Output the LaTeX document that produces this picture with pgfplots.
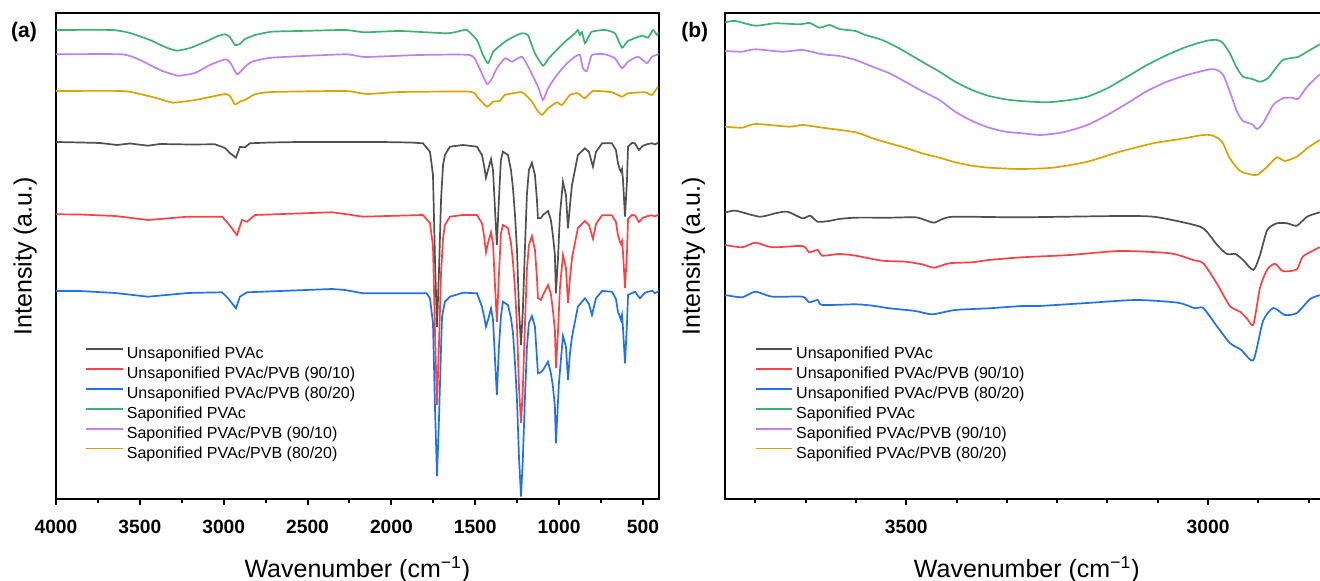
\documentclass[border=0pt]{standalone}
\usepackage{fontspec}
\setmainfont{Liberation Sans}
\usepackage{pgfplots}
\pgfplotsset{compat=1.18}
\definecolor{cgray}{RGB}{80,80,80}
\definecolor{cred}{RGB}{250,66,66}
\definecolor{cblue}{RGB}{30,112,238}
\definecolor{cgreen}{RGB}{60,178,112}
\definecolor{cpurple}{RGB}{190,128,245}
\definecolor{cgold}{RGB}{218,163,0}
\pgfplotsset{
  common/.style={
    scale only axis, anchor=south west, x dir=reverse,
    ymin=-1, ymax=484.5, ytick=\empty,
    xtick pos=left, tick align=outside,
    major tick length=3pt, minor tick length=2pt,
    tick style={line width=1pt, black},
    axis line style={line width=1pt},
    scaled x ticks=false,
    /pgf/number format/set thousands separator={},
    /pgf/number format/assume math mode=true,
    xticklabel style={font=\fontsize{9.6}{11}\selectfont\bfseries, yshift=-3.8pt},
    label style={font=\fontsize{12.5}{14}\selectfont},
    xlabel={Wavenumber (cm\textsuperscript{−1})},
    ylabel={Intensity (a.u.)},
    legend cell align=left,
    legend image code/.code={\draw[#1] (0pt,2.9pt) -- (18.3pt,2.9pt);},
    every axis plot/.append style={line width=0.85pt},
    clip mode=individual,
  }
}
\begin{document}
\begin{tikzpicture}
\path[use as bounding box] (0,0) rectangle (660pt,290.5pt);
% ---------------- panel (a)
\begin{axis}[common, at={(28pt,41pt)}, width=301.35pt, height=242.75pt,
  xmin=406, xmax=4000, xtick={500,1000,...,4000},
  minor xtick={750,1250,1750,2250,2750,3250,3750},
  xlabel style={at={(axis description cs:0.5,-0.1607)}, anchor=base},
  ylabel style={at={(axis description cs:-0.0405,0.5)}, anchor=base},
  legend style={draw=none, fill=none, inner sep=0pt, outer sep=0pt,
    at={(axis description cs:0.0488,0.317)}, anchor=north west,
    font=\fontsize{8}{9}\selectfont, row sep=0pt, column sep=1.6pt,
    nodes={inner sep=0pt, text height=6.95pt, text depth=2.98pt}},
]
\addplot[cgray] coordinates {(4000,356) (3857,355.5) (3738,355) (3636,353) (3559,354.5) (3451,352.3) (3380,354) (3201,353.5) (3052,353.7) (2992,350) (2963,345) (2927,340.3) (2903,351) (2873,350.7) (2843,354.7) (2724,355.5) (2545,356) (2307,356) (2068,356) (1889,355.5) (1812,354.7) (1770,346.3) (1752,323) (1740,238) (1728,171) (1716,228) (1704,298) (1692,333) (1681,343) (1651,351.3) (1573,353) (1490,351.3) (1460,343) (1448,333) (1436,320.3) (1424,328) (1406,339) (1394,328) (1382,288) (1371,253) (1359,298) (1347,338) (1335,346.3) (1305,343) (1287,328) (1275,310) (1263,283) (1251,248) (1239,188) (1227,153) (1216,188) (1204,248) (1192,303) (1180,328) (1162,335.3) (1144,323) (1132,298) (1126,279.7) (1108,280) (1096,283) (1066,287) (1049,278) (1037,263) (1025,243) (1019,204.7) (1007,238) (995,283) (977,316.3) (959,303) (947,269.7) (935,293) (923,313) (888,343) (846,349.7) (822,346) (798,331.3) (780,346) (744,354.7) (685,354.7) (661,348) (649,334.7) (637,328) (631,326.3) (625,329) (619,318) (607,281.3) (595,318) (589,351.3) (566,355) (548,354.7) (524,348) (500,352.3) (470,354) (446,354.7) (428,353.5) (405,355.7)};
\addlegendentry{Unsaponified PVAc}
\addplot[cred] coordinates {(4000,283.7) (3857,283.5) (3648,282) (3451,278) (3213,281.3) (3010,281.3) (2974,274.7) (2921,263) (2891,278) (2861,276.3) (2813,283) (2354,285.7) (2277,284) (2169,281.3) (1812,283) (1770,275) (1752,252) (1740,165) (1728,93) (1716,155) (1704,225) (1692,260) (1681,273) (1651,281.3) (1573,283) (1490,283) (1460,274.7) (1448,263) (1436,245.7) (1424,255) (1406,265.7) (1394,254) (1382,212) (1371,176) (1359,222) (1347,264) (1335,273) (1305,270) (1287,255) (1275,236) (1263,209) (1251,172) (1239,110) (1227,75) (1216,110) (1204,172) (1192,228) (1180,253) (1162,262) (1144,248) (1132,220) (1126,200) (1108,198) (1096,203) (1066,213) (1049,204) (1037,188) (1025,168) (1019,130) (1007,165) (995,210) (977,243) (959,230) (947,195) (935,220) (923,240) (888,270) (846,277) (822,273) (798,259) (780,274) (744,282.7) (685,282.7) (661,276) (649,262.7) (637,256) (631,254) (625,257) (619,246) (607,210) (595,246) (589,279) (566,283) (548,282.7) (524,276) (500,280.3) (470,282) (446,282.7) (428,281.5) (405,283.7)};
\addlegendentry{Unsaponified PVAc/PVB (90/10)}
\addplot[cblue] coordinates {(4000,207) (3857,207) (3648,205) (3451,201.3) (3213,205) (3010,205.7) (2974,199.7) (2927,189.7) (2903,201.3) (2861,205.7) (2354,209) (2277,208) (2169,204.7) (1790,204.7) (1770,199.7) (1752,175) (1740,90) (1728,22) (1716,80) (1704,150) (1698,181.3) (1681,196.3) (1651,201.3) (1573,205.3) (1490,204.7) (1460,191.3) (1448,182) (1436,171.3) (1424,178) (1406,189.7) (1394,178) (1382,138) (1371,103) (1359,150) (1347,181.3) (1335,196.3) (1305,193) (1287,180) (1275,165) (1263,135) (1251,98) (1239,40) (1227,1.3) (1216,40) (1204,98) (1192,150) (1180,175) (1162,182) (1144,171.3) (1132,140) (1126,124.7) (1108,126) (1096,128) (1066,136.3) (1049,124.7) (1037,112) (1025,91.3) (1019,54.7) (1007,95) (1001,115) (977,162) (959,151.3) (947,118) (935,145) (923,161.3) (888,191.3) (846,199.7) (822,194) (804,183) (780,199.7) (744,207) (685,206.3) (661,199) (649,186.3) (631,178) (625,183) (619,170) (607,134.7) (595,175) (589,203) (548,206.3) (518,199.7) (488,205.3) (446,207.3) (428,204.7) (405,207)};
\addlegendentry{Unsaponified PVAc/PVB (80/20)}
\addplot[cgreen, smooth, tension=0.3] coordinates {(4000,468) (3666,468) (3559,465) (3440,458) (3350,451) (3279,447.3) (3201,450) (3112,456) (3034,462) (2992,463.7) (2963,461) (2933,453) (2903,454) (2873,459) (2843,461) (2813,463) (2712,466.3) (2545,467) (2277,468) (2158,465.7) (1949,467) (1669,464.7) (1591,467) (1550,468) (1490,458) (1454,443) (1424,434.7) (1394,446) (1371,449.7) (1323,456.3) (1263,462) (1221,464.7) (1186,463) (1144,444.7) (1096,432.3) (1060,440) (1025,446.3) (965,456.3) (905,464.7) (888,468) (876,463) (864,466) (846,454.7) (828,460) (804,466.3) (727,468) (667,464.7) (625,450.3) (589,457) (506,462.3) (470,460.3) (440,468) (416,463) (405,466)};
\addlegendentry{Saponified PVAc}
\addplot[cpurple, smooth, tension=0.3] coordinates {(4000,443.7) (3606,443.7) (3499,438) (3380,428) (3273,422.3) (3171,425) (3082,433) (2992,438.7) (2963,436) (2921,423.7) (2891,428) (2873,431.3) (2831,436.3) (2712,440.3) (2277,443.7) (2158,441) (1830,443) (1532,443) (1484,433) (1430,414) (1400,419.7) (1371,429.7) (1323,439.7) (1281,436.3) (1221,441.3) (1174,428) (1126,411.3) (1096,398) (1066,409.7) (1013,423) (953,434.7) (905,441.3) (876,443) (858,429.7) (834,427) (804,443) (727,443.7) (667,439.7) (625,429.7) (589,436.3) (530,441.3) (476,434.7) (446,441.3) (405,443.7)};
\addlegendentry{Saponified PVAc/PVB (90/10)}
\addplot[cgold, smooth, tension=0.3] coordinates {(4000,407) (3606,407) (3499,404) (3380,399) (3302,395.3) (3171,398) (3052,402) (2992,404) (2963,402) (2933,393.7) (2897,397) (2873,398) (2813,403.7) (2712,406) (2277,407) (2146,404) (1949,406) (1532,406.3) (1490,401.3) (1430,391.3) (1394,396.3) (1353,397) (1323,403) (1221,405.7) (1162,396.3) (1132,388) (1102,383) (1066,389.7) (1013,395.7) (983,393) (935,403) (888,404.7) (846,399.7) (798,407) (685,405.7) (625,401.3) (589,404.7) (488,405.7) (446,403) (411,411.3)};
\addlegendentry{Saponified PVAc/PVB (80/20)}
\node[font=\fontsize{10.5}{12}\selectfont\bfseries] at (axis description cs:-0.0531,0.961) {(a)};
\end{axis}
% ---------------- panel (b)
\begin{axis}[common, at={(362.6pt,41pt)}, width=297.4pt, height=242.75pt,
  xmin=2814.6, xmax=3800, xtick={3000,3500},
  minor xtick={2833.33,2916.67,3083.33,3166.67,3250,3333.33,3416.67,3583.33,3666.67,3750},
  axis line style={draw=none},
  xlabel style={at={(axis description cs:0.507,-0.1607)}, anchor=base},
  ylabel style={at={(axis description cs:-0.0424,0.5)}, anchor=base},
  legend style={draw=none, fill=none, inner sep=0pt, outer sep=0pt,
    at={(axis description cs:0.0496,0.317)}, anchor=north west,
    font=\fontsize{8}{9}\selectfont, row sep=0pt, column sep=1.6pt,
    nodes={inner sep=0pt, text height=6.95pt, text depth=2.98pt}},
]
\draw[line width=1pt] (rel axis cs:1.01,1) -- (rel axis cs:0,1) -- (rel axis cs:0,0) -- (rel axis cs:1.01,0);
\addplot[cgray, smooth, tension=0.4] coordinates {(3800,285.3) (3783,287.3) (3743,281.3) (3717,284.7) (3697,286.3) (3672,279.7) (3659,282.3) (3647,276.3) (3628,277) (3611,279) (3584,280.3) (3528,280.3) (3485,280.7) (3469,278) (3454,275.3) (3440,279) (3419,281.3) (3311,280.7) (3146,282) (3091,281.3) (3046,276.3) (3013,271.3) (3002,266.3) (2985,253) (2969,244) (2955,244) (2942,238) (2925,228) (2914,243) (2902,268) (2886,274.7) (2869,274.7) (2853,272.3) (2836,281.3) (2815,285.7)};
\addlegendentry{Unsaponified PVAc}
\addplot[cred, smooth, tension=0.4] coordinates {(3800,253) (3772,250.7) (3750,255.3) (3722,250.7) (3672,252) (3661,245.7) (3647,248) (3639,242.3) (3611,244) (3584,242.3) (3540,237.3) (3502,236.3) (3474,233.7) (3454,230.3) (3429,234.7) (3391,235.7) (3363,238) (3308,240.7) (3229,243) (3146,247) (3063,244.7) (3025,238) (3008,234.7) (2985,214) (2964,192) (2947,186.2) (2935,179) (2925,173.3) (2914,210.2) (2902,228.6) (2889,234.2) (2876,226.8) (2853,228.6) (2843,241.5) (2815,250.8)};
\addlegendentry{Unsaponified PVAc/PVB (90/10)}
\addplot[cblue, smooth, tension=0.4] coordinates {(3800,203) (3772,200.7) (3750,206.3) (3722,201.3) (3672,201.3) (3661,195.7) (3647,198) (3639,193) (3584,193.7) (3556,192.3) (3528,189.7) (3485,187) (3457,183.7) (3419,188) (3363,189.7) (3308,192) (3280,192) (3200,195) (3119,198) (3050,195.3) (3022,189.7) (3008,190) (2985,171.4) (2964,155) (2945,148) (2925,138) (2909,177) (2892,190) (2873,183) (2853,185) (2831,199) (2815,202.8)};
\addlegendentry{Unsaponified PVAc/PVB (80/20)}
\addplot[cgreen, smooth, tension=0.4] coordinates {(3800,475.7) (3783,477) (3750,472.3) (3717,474.7) (3677,473.7) (3660,475) (3644,470.3) (3627,473) (3611,469) (3584,467) (3568,463) (3540,458) (3512,449.7) (3474,436.3) (3445,426.3) (3419,416.3) (3391,408) (3363,402) (3336,398.7) (3311,397) (3267,395.7) (3229,398) (3200,401.3) (3167,409.7) (3134,421.3) (3101,433) (3068,443) (3035,451.3) (3002,457.3) (2985,458) (2975,454.7) (2964,444.7) (2952,429.7) (2942,421.3) (2927,419) (2914,416.3) (2901,419.7) (2886,431.3) (2876,438) (2859,440.3) (2851,441) (2843,443.7) (2815,453.7)};
\addlegendentry{Saponified PVAc}
\addplot[cpurple, smooth, tension=0.4] coordinates {(3800,447) (3772,446.3) (3750,448.7) (3705,446.3) (3672,448) (3639,443.7) (3611,442) (3584,438) (3556,431.3) (3528,424.7) (3502,416.3) (3474,407) (3445,398) (3419,386.3) (3391,377) (3363,370.3) (3336,366.3) (3308,364.7) (3278,363) (3240,365.7) (3200,373) (3167,383) (3134,394.7) (3101,407) (3068,416.3) (3035,423) (2997,428.7) (2985,428) (2975,423) (2964,406.3) (2952,386.3) (2942,377) (2927,373.7) (2919,369) (2909,374.7) (2892,393) (2876,399.7) (2861,400.3) (2851,399) (2836,411.3) (2815,423.7)};
\addlegendentry{Saponified PVAc/PVB (90/10)}
\addplot[cgold, smooth, tension=0.4] coordinates {(3800,371.3) (3772,370.3) (3750,374) (3694,371.3) (3672,373) (3639,370.3) (3584,365.7) (3556,359.7) (3528,354.7) (3502,350.3) (3474,344.7) (3445,340.3) (3419,335.7) (3391,332.3) (3363,330.3) (3311,329) (3257,330.3) (3200,336.3) (3146,346.3) (3091,354.7) (3046,359) (3008,363) (2992,362.3) (2977,356.3) (2964,339.7) (2947,327) (2925,323) (2917,323.7) (2902,331.3) (2886,340.7) (2873,337) (2853,341.3) (2836,349.7) (2815,358)};
\addlegendentry{Saponified PVAc/PVB (80/20)}
\node[font=\fontsize{10.5}{12}\selectfont\bfseries] at (axis description cs:-0.0513,0.961) {(b)};
\end{axis}
\end{tikzpicture}
\end{document}
